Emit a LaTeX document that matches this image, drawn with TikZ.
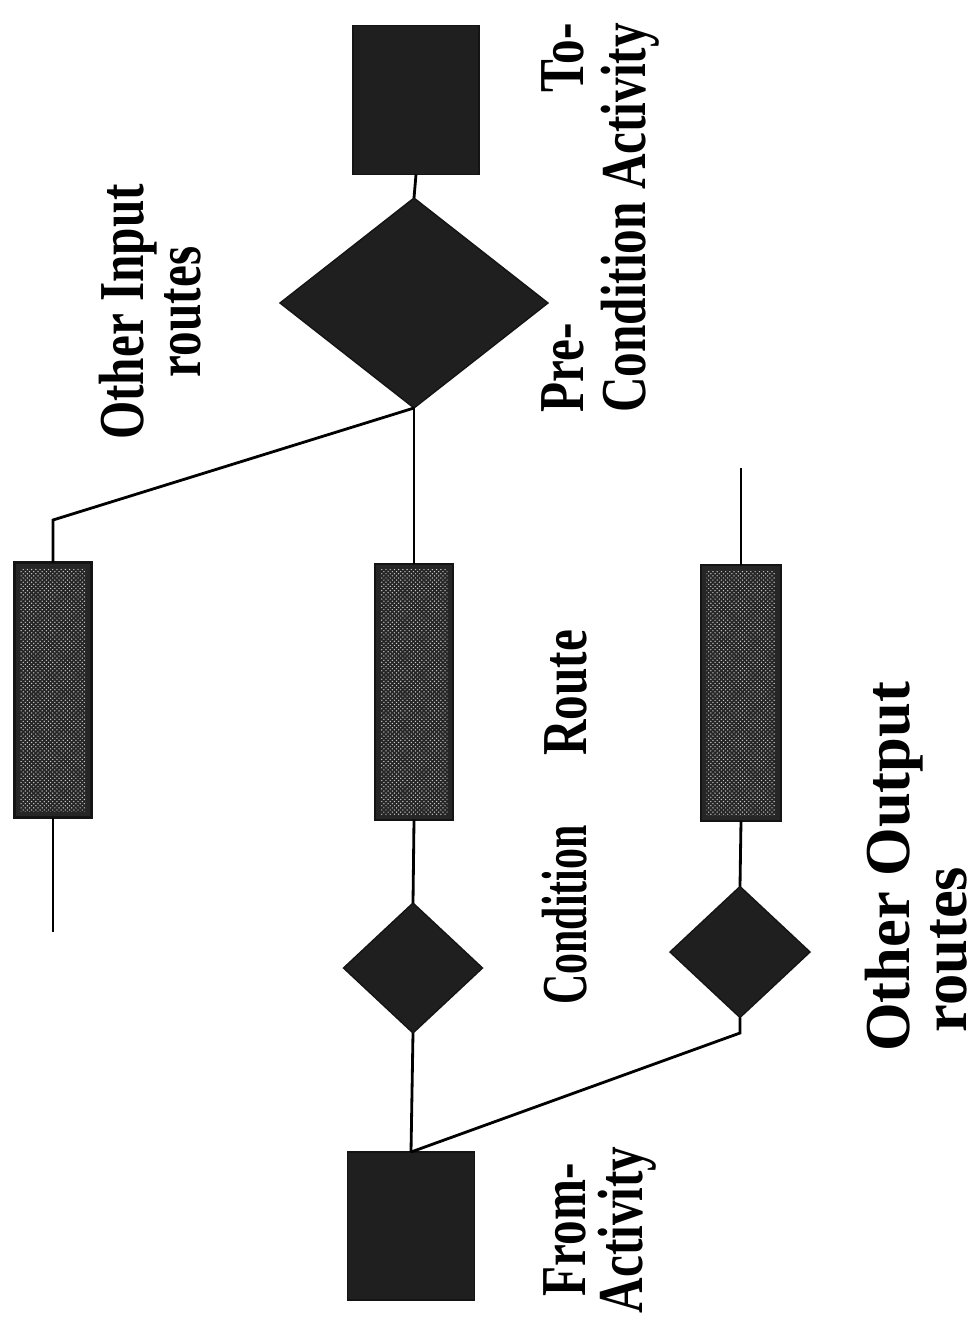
\documentclass[tikz,border=0pt]{standalone}
\usepackage{fontspec}
\setmainfont{Liberation Serif}
\usetikzlibrary{shapes.geometric,patterns}

\tikzset{
  blockfill/.style={fill=black!88, draw=black!92, line width=1pt, inner sep=0pt, outer sep=0pt},
  actbox/.style={blockfill, rectangle},
  condbox/.style={blockfill, diamond},
  routebox/.style={rectangle, fill=black!85, draw=black!92, line width=1.5pt, inner sep=0pt, outer sep=0pt,
    path picture={\fill[pattern=crosshatch dots, pattern color=black!20]
      ([shift={(4pt,-4pt)}]path picture bounding box.north west) rectangle
      ([shift={(-4pt,4pt)}]path picture bounding box.south east);}},
  link/.style={line width=2pt},
  lbl/.style={font=\fontsize{35}{31}\selectfont\bfseries, rotate=90, yscale=1.3, inner sep=0pt, align=center},
}

\begin{document}
\begin{tikzpicture}[x=0.025cm, y=-0.025cm]
\useasboundingbox (0,0) rectangle (979,1331);
% --- activities and conditions ---
\node[actbox, minimum width=126*0.025cm, minimum height=149*0.025cm] (toact) at (416,100) {};
\node[condbox, minimum width=268*0.025cm, minimum height=210*0.025cm] (precond) at (414,303) {};
\node[condbox, minimum width=139*0.025cm, minimum height=130*0.025cm] (cond) at (413,968) {};
\node[condbox, minimum width=140*0.025cm, minimum height=131*0.025cm] (outcond) at (740,952) {};
\node[actbox, minimum width=127*0.025cm, minimum height=148*0.025cm] (fromact) at (411,1226) {};
% --- routes ---
\node[routebox, minimum width=77*0.025cm, minimum height=255*0.025cm] (inroute) at (53,690) {};
\node[routebox, minimum width=78*0.025cm, minimum height=256*0.025cm] (route) at (414,692) {};
\node[routebox, minimum width=80*0.025cm, minimum height=256*0.025cm] (outroute) at (741,693) {};
% free ends and bends
\coordinate (inbend) at (53,520);
\coordinate (inend) at (53,932);
\coordinate (outbend) at (740,1033);
\coordinate (outend) at (741,468);
% --- connectors ---
\draw[link] (toact.south) -- (precond.north);
\draw[link] (precond.south) -- (route.north);
\draw[link] (precond.south) -- (inbend) -- (inroute.north);
\draw[link] (inroute.south) -- (inend);
\draw[link] (route.south) -- (cond.north);
\draw[link] (cond.south) -- (fromact.north);
\draw[link] (fromact.north) -- (outbend) -- (outcond.south);
\draw[link] (outcond.north) -- (outroute.south);
\draw[link] (outroute.north) -- (outend);
% --- labels ---
\node[lbl] (inlbl) at (150,312) {Other Input\\routes};
\node[lbl] (prelbl) at (602,218) {\begin{tabular}{@{}l@{}}Pre-\hfill To-\\Condition Activity\end{tabular}};
\node[lbl] (routelbl) at (566,693) {Route};
\node[lbl, xscale=0.85] (condlbl) at (565,915) {Condition};
\node[lbl] (fromlbl) at (600,1230) {From-\\Activity};
\node[lbl, align=left, xscale=1.27] (outlbl) at (916,867) {Other Output\\\hspace*{11pt}routes};
\end{tikzpicture}
\end{document}
